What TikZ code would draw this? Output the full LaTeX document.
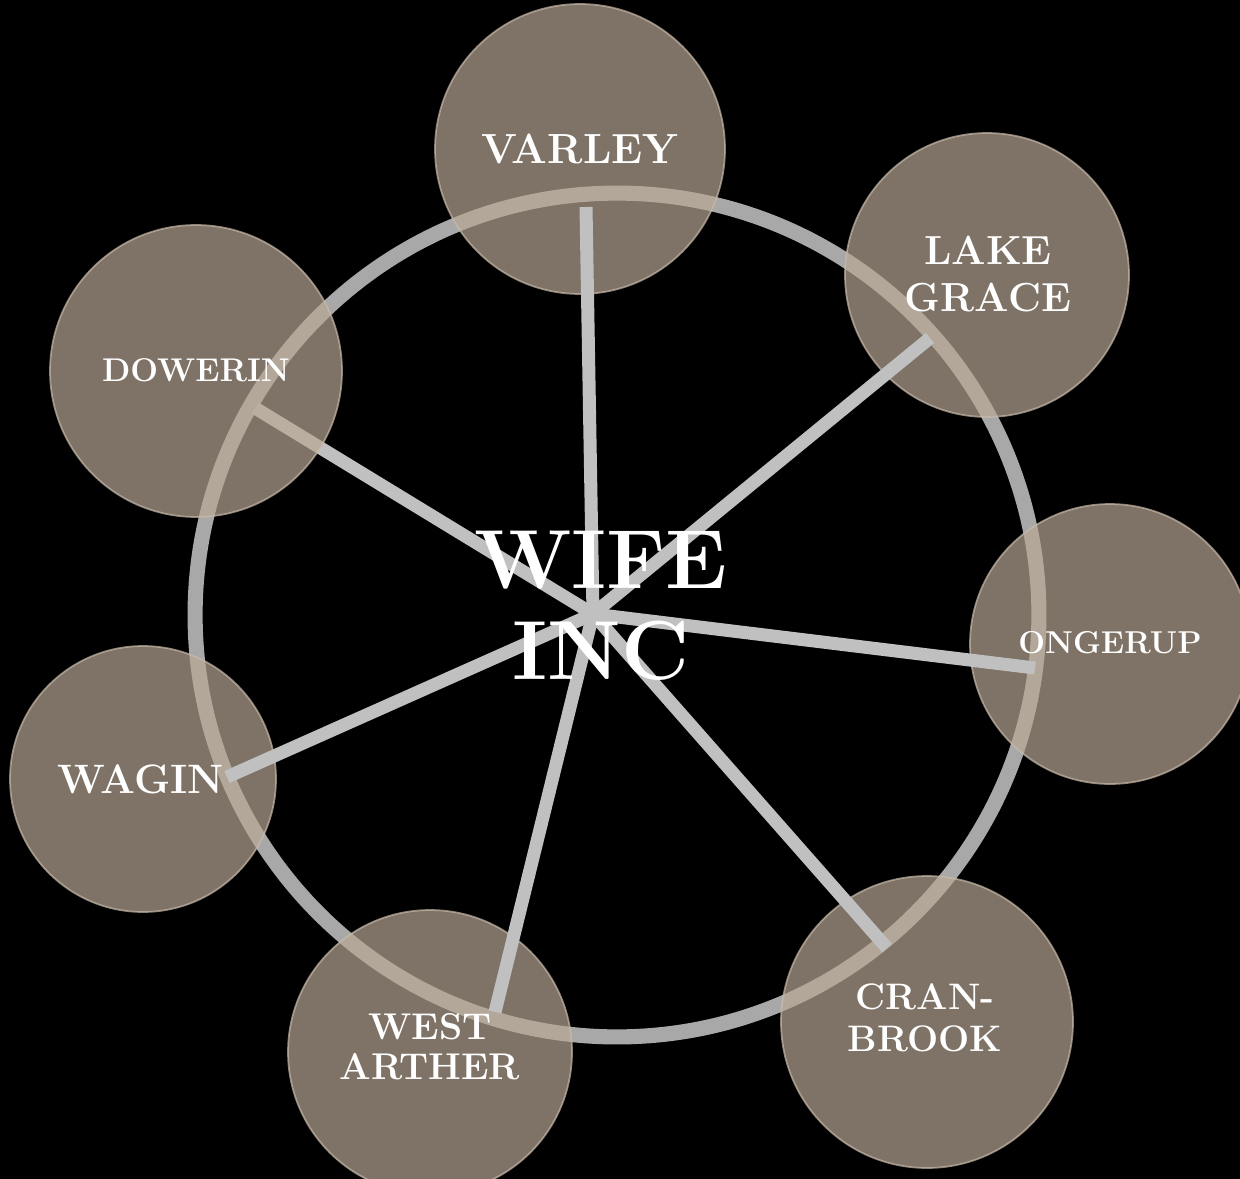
\documentclass[tikz,border=0pt]{standalone}
\usepackage{xcolor}
\usepackage{tikz}

\definecolor{townfill}{RGB}{184,167,148}
\definecolor{townrim}{RGB}{200,186,170}
\definecolor{ringgray}{RGB}{168,168,168}
\definecolor{spokegray}{RGB}{192,192,192}

\tikzset{
  town/.style={circle, fill=townfill, fill opacity=0.69, draw=townrim, draw opacity=0.7,
    line width=1pt, inner sep=0pt, minimum size=#1},
  spoke/.style={draw=spokegray, line width=7.4pt},
  townlabel/.style={text=white, align=center, inner sep=0pt}
}

\begin{document}
\begin{tikzpicture}[x=0.02cm,y=-0.02cm]
\fill[black] (0,0) rectangle (1240,1179);
\useasboundingbox (0,0) rectangle (1240,1179);

% outer ring
\node[circle, draw=ringgray, line width=8.6pt, inner sep=0pt, minimum size=16.88cm] (ring) at (617,615) {};

% towns
\node[town=5.8cm] (varley) at (580,149) {};
\node[town=5.68cm] (lakegrace) at (987,275) {};
\node[town=5.6cm] (ongerup) at (1110,644) {};
\node[town=5.84cm] (cranbrook) at (927,1022) {};
\node[town=5.68cm] (westarther) at (430,1052) {};
\node[town=5.32cm] (wagin) at (143,779) {};

% spokes
\coordinate (hub) at (593,614);
\coordinate (varleyend) at (586,207);
\coordinate (lakegraceend) at (930,338);
\coordinate (ongerupend) at (1035,668);
\coordinate (cranbrookend) at (887,948);
\coordinate (westartherend) at (495,1012);
\coordinate (waginend) at (227,777);
\coordinate (dowerinend) at (255,408);
\foreach \e in {varleyend,lakegraceend,ongerupend,cranbrookend,westartherend,waginend,dowerinend}
  \draw[spoke] (hub) -- (\e);

\node[town=5.84cm] (dowerin) at (196,371) {};

% labels
\node[townlabel, font=\bfseries\fontsize{24pt}{26pt}\selectfont] (varleytext) at (varley) {VARLEY};
\node[townlabel, font=\bfseries\fontsize{23.1pt}{26.7pt}\selectfont] (lakegracetext) at (988,274) {LAKE\\GRACE};
\node[townlabel, font=\bfseries\fontsize{18pt}{20pt}\selectfont] (ongeruptext) at (1110,643) {ONGERUP};
\node[townlabel, font=\bfseries\fontsize{21pt}{23.9pt}\selectfont] (cranbrooktext) at (925,1018) {CRAN-\\BROOK};
\node[townlabel, font=\bfseries\fontsize{21.2pt}{22.8pt}\selectfont] (westarthertext) at (430,1047) {WEST\\ARTHER};
\node[townlabel, font=\bfseries\fontsize{23.4pt}{25pt}\selectfont] (wagintext) at (141,779) {WAGIN};
\node[townlabel, font=\bfseries\fontsize{18.7pt}{21pt}\selectfont] (dowerintext) at (196,370) {DOWERIN};
\node[townlabel, font=\bfseries\fontsize{47.7pt}{51.8pt}\selectfont] (wifeinc) at (601,606) {WIFE\\INC};
\end{tikzpicture}
\end{document}
